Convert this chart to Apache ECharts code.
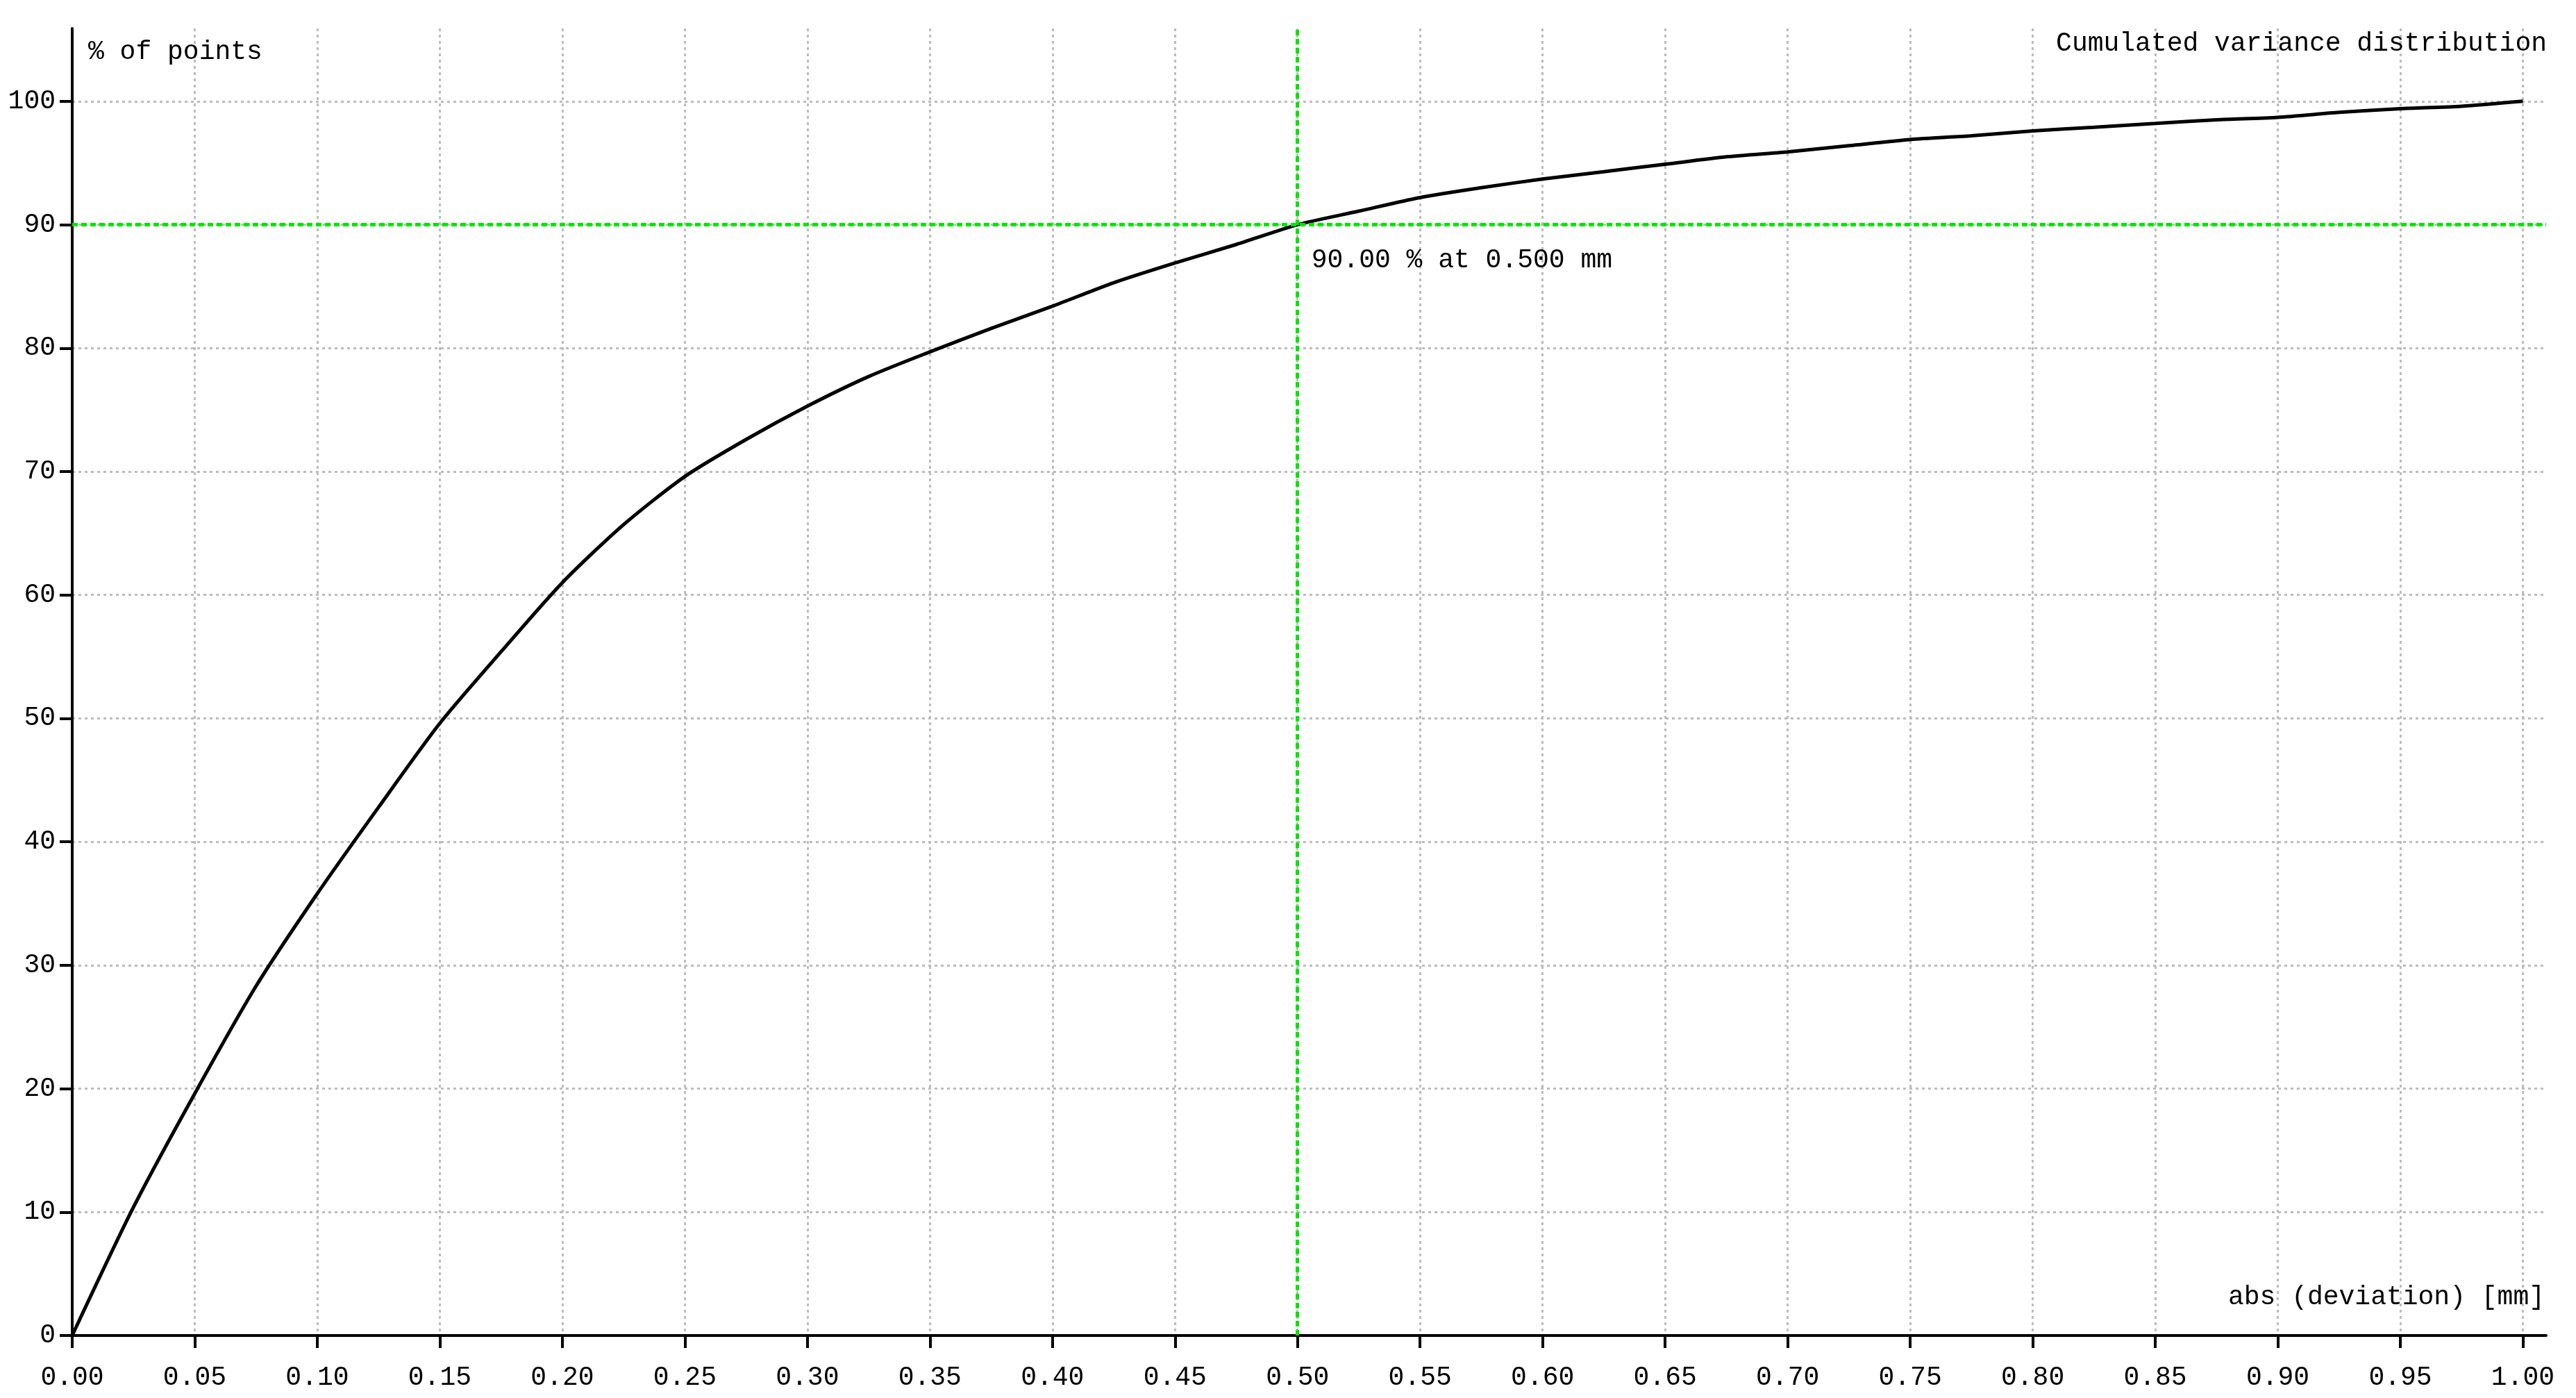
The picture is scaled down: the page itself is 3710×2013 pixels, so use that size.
<!DOCTYPE html>
<html>
<head>
<meta charset="utf-8">
<title>Cumulated variance distribution</title>
<script src="https://cdn.jsdelivr.net/npm/echarts@6/dist/echarts.min.js"></script>
<style>
  html, body { margin: 0; padding: 0; background: #fff; }
  #main { width: 3710px; height: 2013px; }
</style>
</head>
<body>
<div id="main"></div>
<script>
// deviation [mm] and cumulated share of points [%]
var deviation = [
  0.000, 0.025, 0.050, 0.075, 0.100, 0.125, 0.150, 0.175, 0.200, 0.225,
  0.250, 0.275, 0.300, 0.325, 0.350, 0.375, 0.400, 0.425, 0.450, 0.475,
  0.500, 0.525, 0.550, 0.575, 0.600, 0.625, 0.650, 0.675, 0.700, 0.725,
  0.750, 0.775, 0.800, 0.825, 0.850, 0.875, 0.900, 0.925, 0.950, 0.975,
  1.000
];
var percent = [
  0.0, 10.4, 19.6, 28.3, 35.8, 42.8, 49.6, 55.4, 61.0, 65.7,
  69.6, 72.6, 75.3, 77.7, 79.7, 81.6, 83.4, 85.3, 86.9, 88.4,
  90.0, 91.1, 92.2, 93.0, 93.7, 94.3, 94.9, 95.5, 95.9, 96.4,
  96.9, 97.2, 97.6, 97.9, 98.2, 98.5, 98.7, 99.1, 99.4, 99.6,
  100.0
];
var xTicks = [0, 0.05, 0.10, 0.15, 0.20, 0.25, 0.30, 0.35, 0.40, 0.45, 0.50,
  0.55, 0.60, 0.65, 0.70, 0.75, 0.80, 0.85, 0.90, 0.95, 1.00];
var yTicks = [0, 10, 20, 30, 40, 50, 60, 70, 80, 90, 100];
var mark = { x: 0.5, y: 90 };

var font = "'Liberation Mono', 'DejaVu Sans Mono', monospace";
var gridLine = { color: '#bcbcbc', width: 3, type: [4, 5] };

var points = deviation.map(function (d, i) { return [d, percent[i]]; });

var chart = echarts.init(document.getElementById('main'));
chart.setOption({
  animation: false,
  backgroundColor: '#fff',
  title: {
    text: 'Cumulated variance distribution',
    right: 42,
    top: 44,
    padding: 0,
    textStyle: { fontFamily: font, fontSize: 38, fontWeight: 'normal', color: '#000', lineHeight: 38 }
  },
  grid: { left: 104, right: 43, top: 41, bottom: 90 },
  xAxis: {
    type: 'value',
    min: 0,
    max: 1.0095,
    name: 'abs (deviation) [mm]',
    nameLocation: 'end',
    nameGap: -2,
    nameTextStyle: {
      fontFamily: font, fontSize: 38, color: '#000',
      align: 'right', verticalAlign: 'bottom', lineHeight: 38,
      padding: [0, 0, 36, 0]
    },
    axisLine: { lineStyle: { color: '#000', width: 4 } },
    axisTick: { customValues: xTicks, length: 18, lineStyle: { color: '#000', width: 4 } },
    axisLabel: {
      customValues: xTicks,
      margin: 61,
      verticalAlign: 'middle',
      fontFamily: font, fontSize: 38, color: '#000',
      formatter: function (v) { return v.toFixed(2); }
    },
    splitLine: { show: true, lineStyle: gridLine }
  },
  yAxis: {
    type: 'value',
    min: 0,
    max: 105.9,
    name: '% of points',
    nameLocation: 'end',
    nameGap: -34,
    nameTextStyle: {
      fontFamily: font, fontSize: 38, color: '#000',
      align: 'left', verticalAlign: 'middle',
      padding: [0, 0, 0, 23]
    },
    axisLine: { show: true, lineStyle: { color: '#000', width: 4 } },
    axisTick: { show: true, customValues: yTicks, length: 18, lineStyle: { color: '#000', width: 4 } },
    axisLabel: {
      customValues: yTicks,
      margin: 24,
      fontFamily: font, fontSize: 38, color: '#000'
    },
    splitLine: { show: true, lineStyle: gridLine }
  },
  series: [{
    type: 'line',
    data: points,
    showSymbol: false,
    smooth: 0.25,
    lineStyle: { color: '#000', width: 5 },
    markLine: {
      silent: true,
      symbol: 'none',
      label: { show: false },
      lineStyle: { color: '#00e600', width: 5, type: [8, 5] },
      data: [{ xAxis: mark.x }, { yAxis: mark.y }]
    },
    markPoint: {
      silent: true,
      symbol: 'circle',
      symbolSize: 0,
      data: [{ coord: [mark.x, mark.y] }],
      label: {
        show: true,
        position: [20, 51],
        align: 'left',
        verticalAlign: 'middle',
        fontFamily: font, fontSize: 38, color: '#000',
        formatter: mark.y.toFixed(2) + ' % at ' + mark.x.toFixed(3) + ' mm'
      }
    }
  }]
});
</script>
</body>
</html>
